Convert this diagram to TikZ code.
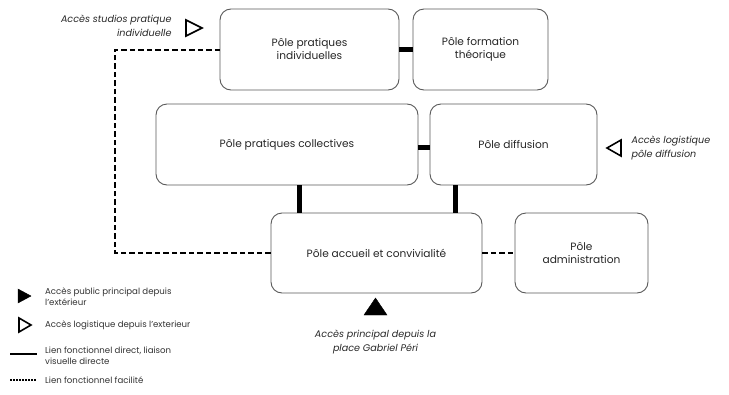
\documentclass[tikz,border=0pt]{standalone}
\usepackage{fontspec}
\setmainfont{Poppins}
\usepackage{tikz}

\begin{document}
\begin{tikzpicture}[x=1pt, y=-1pt,
  pole/.style={draw=black!65, line width=0.9pt, rounded corners=11pt, align=center, text=black!85, font=\fontsize{10.6}{13}\selectfont, inner sep=2pt},
  lienfort/.style={black, line width=4.5pt},
  lienfacile/.style={black, line width=2pt, dash pattern=on 5.5pt off 3pt},
  acces/.style={text=black!85, font=\fontsize{9.6}{14}\selectfont\itshape},
  legende/.style={text=black!80, font=\fontsize{8.6}{11}\selectfont, align=left, anchor=west, inner sep=0pt}]
\useasboundingbox (0,0) rectangle (729,394);

\node[pole, minimum width=179, minimum height=81] (indiv) at (309.5,49.5) {Pôle pratiques\\individuelles};
\node[pole, minimum width=135, minimum height=81] (formation) at (480.5,49.5) {Pôle formation\\théorique};
\node[pole, minimum width=262, minimum height=81] (collect) at (287,144.5) {Pôle pratiques collectives};
\node[pole, minimum width=167, minimum height=81] (diffusion) at (513.5,144.5) {Pôle diffusion};
\node[pole, minimum width=211, minimum height=80] (accueil) at (376.5,253) {Pôle accueil et convivialité};
\node[pole, minimum width=133, minimum height=80] (admin) at (581.5,253) {Pôle\\administration};

\draw[lienfort] (indiv.east) -- (formation.west);
\draw[lienfort] ([yshift=-3pt]collect.east) -- ([yshift=-3pt]diffusion.west);
\draw[lienfort] ([xshift=29pt]accueil.north west) -- ([xshift=29pt]accueil.north west |- collect.south);
\draw[lienfort] ([xshift=-27pt]accueil.north east) -- ([xshift=-27pt]accueil.north east |- diffusion.south);

\coordinate (coin) at (115,253);
\draw[lienfacile] (accueil.west) -- (coin) |- (indiv.west);
\draw[lienfacile] (accueil.east) -- (admin.west);

\draw[black, line width=1.6pt, line join=miter] (186,20)--(202,28)--(186,36)--cycle;
\node[acces, align=right, anchor=east] (studios) at (175,26) {Accès studios pratique\\individuelle};
\draw[black, line width=1.6pt, line join=miter] (621,140)--(607,148)--(621,156)--cycle;
\node[acces, align=left, anchor=west] (logdiff) at (628,148) {Accès logistique\\pôle diffusion};
\draw[fill=black] (364,315)--(375.5,298)--(387,315)--cycle;
\node[acces, align=center] (principal) at (375.5,342) {Accès principal depuis la\\place Gabriel Péri};

\draw[fill=black] (18,289)--(31,296)--(18,303)--cycle;
\node[legende] (leg1) at (45,297) {Accès public principal depuis\\l’extérieur};
\draw[black, line width=1.6pt, line join=miter] (19,318)--(31,325)--(19,332)--cycle;
\node[legende] (leg2) at (45,325) {Accès logistique depuis l’exterieur};
\draw[black, line width=1.5pt] (10,354)--(37,354);
\node[legende] (leg3) at (45,356) {Lien fonctionnel direct, liaison\\visuelle directe};
\draw[black, line width=1.2pt, dash pattern=on 1.5pt off 1.5pt] (10,380)--(37,380);
\node[legende] (leg4) at (45,380) {Lien fonctionnel facilité};

\end{tikzpicture}
\end{document}
